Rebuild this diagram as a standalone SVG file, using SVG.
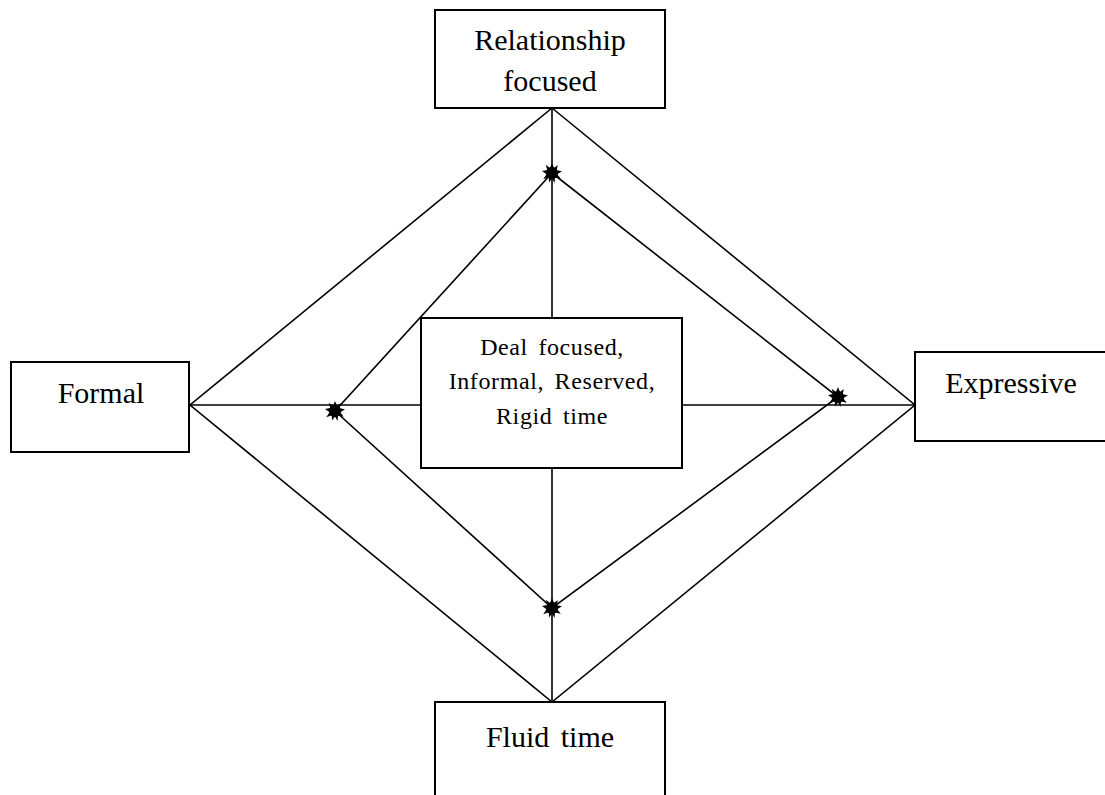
<svg xmlns="http://www.w3.org/2000/svg" width="1105" height="795" viewBox="0 0 1105 795">
<style>
.box{fill:#fff;stroke:#000;stroke-width:2}
.ln{stroke:#000;stroke-width:1.6;fill:none}
.t{font-family:"Liberation Serif","Times New Roman",serif;font-size:30px;fill:#000;text-anchor:middle}
.c{font-family:"Liberation Serif","Times New Roman",serif;font-size:24px;fill:#000;text-anchor:middle;letter-spacing:0.6px;word-spacing:4px}
</style>
<defs>
<symbol id="star" viewBox="-8 -8 16 16" overflow="visible">
<polygon points="0,-8 1.6,-4 4.6,-6.5 3.8,-2.2 8,-1.5 4.2,1 7,4.6 2.4,3.6 2,8 0,4.4 -2.4,7.6 -2.6,3.4 -7,5 -4.4,1 -8,-1.6 -3.8,-2.4 -5,-6.6 -1.6,-4" fill="#000"/>
<circle r="4.8" fill="#000"/>
</symbol>
</defs>
<g id="connectors">
<polyline class="ln" points="552,108 190,405 552,702 915,405 552,108"/>
<polyline class="ln" points="552,173 335,411 552,608 838,397 552,173"/>
<line class="ln" x1="190" y1="405" x2="421" y2="405"/>
<line class="ln" x1="682" y1="405" x2="915" y2="405"/>
<line class="ln" x1="552" y1="108" x2="552" y2="318"/>
<line class="ln" x1="552" y1="468" x2="552" y2="702"/>
</g>
<g id="markers">
<use href="#star" x="542" y="163" width="20" height="20"/>
<use href="#star" x="325" y="401" width="20" height="20"/>
<use href="#star" x="542" y="598" width="20" height="20"/>
<use href="#star" x="828" y="387" width="20" height="20"/>
</g>
<g id="node-relationship">
<rect class="box" x="435" y="10" width="230" height="98"/>
<text class="t" x="550" y="50">Relationship</text>
<text class="t" x="550" y="91">focused</text>
</g>
<g id="node-formal">
<rect class="box" x="11" y="362" width="178" height="90"/>
<text class="t" x="101" y="403">Formal</text>
</g>
<g id="node-expressive">
<rect class="box" x="915" y="352" width="195" height="89"/>
<text class="t" x="1011" y="393">Expressive</text>
</g>
<g id="node-fluid">
<rect class="box" x="435" y="702" width="230" height="100"/>
<text class="t" x="550" y="747" word-spacing="4">Fluid time</text>
</g>
<g id="node-center">
<rect class="box" x="421" y="318" width="261" height="150"/>
<text class="c" x="552" y="355">Deal focused,</text>
<text class="c" x="552" y="389">Informal, Reserved,</text>
<text class="c" x="552" y="424">Rigid time</text>
</g>
</svg>
